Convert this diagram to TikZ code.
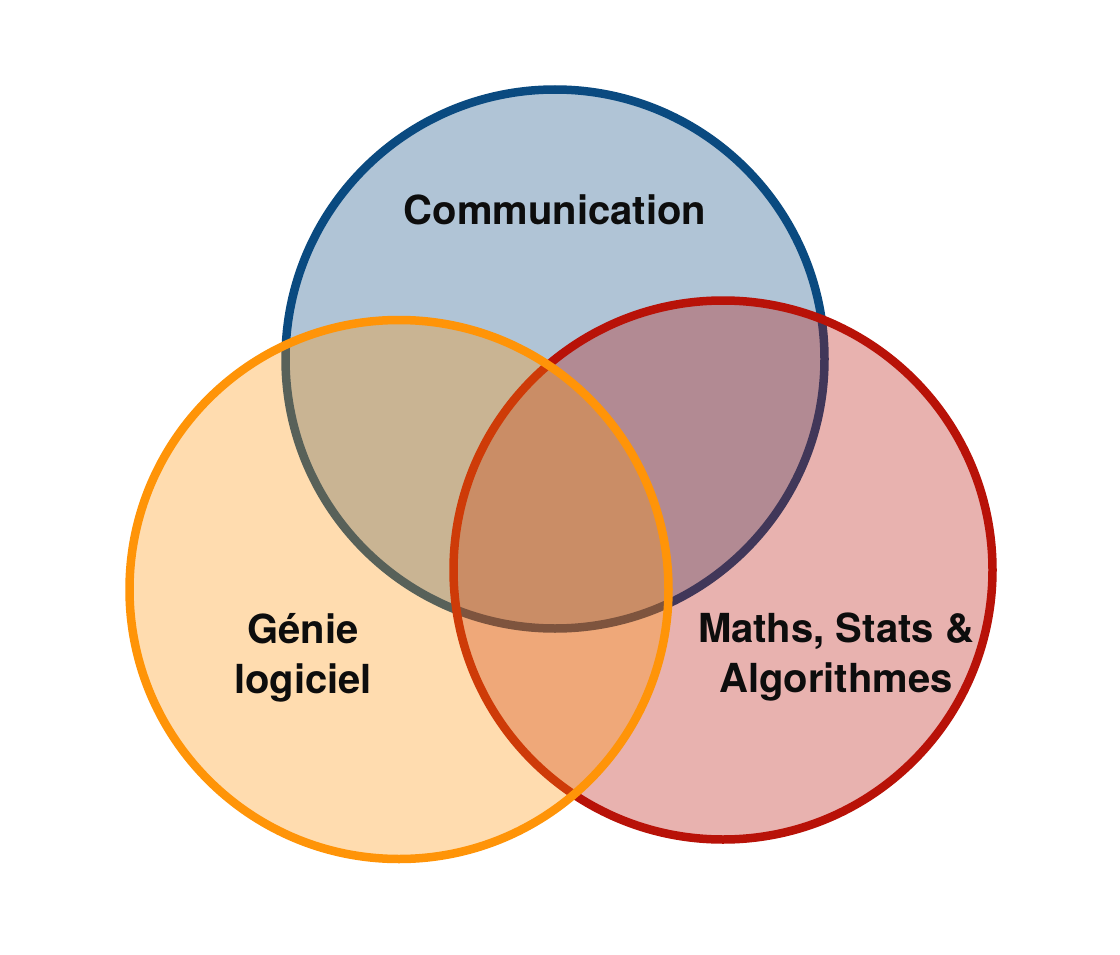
\documentclass[tikz,border=0pt]{standalone}
\usepackage{fontspec}
\setmainfont{TeX Gyre Heros}
\definecolor{cblue}{HTML}{0A4A80}
\definecolor{corange}{HTML}{FF9408}
\definecolor{cred}{HTML}{B81208}
\tikzset{
  venn/.style={circle,minimum size=539pt,inner sep=0pt,outer sep=0pt,line width=8.5pt,draw=#1,fill=#1},
  lab/.style={font=\bfseries\fontsize{40}{50}\selectfont,align=center,text=black!95},
}
\begin{document}
\begin{tikzpicture}[x=1pt,y=-1pt]
\useasboundingbox (0,0) rectangle (1120,955);
\fill[white] (0,0) rectangle (1120,955);
\node[venn=cblue,fill opacity=.32] (comm) at (555,359) {};
\node[venn=cred,fill opacity=.32] (math) at (723,570) {};
\node[venn=corange,fill opacity=.32] (gen) at (399,589.5) {};
\node[lab] (tc) at (555,209.5) {Communication};
\node[lab] (tg) at (303,657.5) {Génie\\logiciel};
\node[lab] (tm) at (836,657.5) {Maths, Stats \&\\Algorithmes};
\end{tikzpicture}
\end{document}
